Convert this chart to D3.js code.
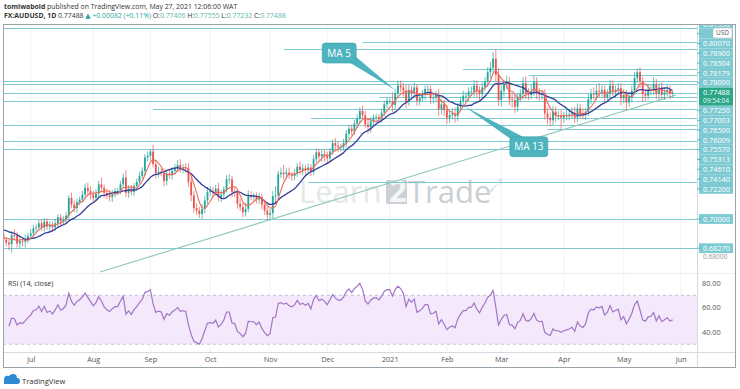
<!DOCTYPE html>
<html>
<head>
<meta charset="utf-8">
<script src="https://cdn.jsdelivr.net/npm/d3@7"></script>
<style>
  body { margin: 0; background: #fff; }
  svg { display: block; font-family: "Open Sans", "DejaVu Sans", sans-serif; }
</style>
</head>
<body>
<div id="chart"></div>
<script>
// ------------------------------------------------------------ Data
// daily closes, FX:AUDUSD, Jun 1 2020 .. May 27 2021 (one line per month)
var closes = [
  0.6895,0.6950,0.6960,0.6955,0.6975,0.6985,0.6965,0.7005,0.6880,0.6865,0.6920,0.6910,0.6875,0.6860,0.6850,0.6905,0.6900,0.6855,0.6870,0.6865,0.6880,0.6900,
  0.6915,0.6945,0.6950,0.6975,0.6950,0.6985,0.6955,0.6965,0.6950,0.6975,0.7010,0.6985,0.6995,0.7020,0.7125,0.7085,0.7065,0.7100,0.7115,0.7145,0.7185,0.7165,0.7145,
  0.7125,0.7150,0.7205,0.7185,0.7155,0.7140,0.7130,0.7150,0.7165,0.7165,0.7205,0.7245,0.7155,0.7180,0.7160,0.7195,0.7220,0.7255,0.7285,0.7365,0.7375,
  0.7400,0.7325,0.7270,0.7280,0.7275,0.7225,0.7270,0.7260,0.7285,0.7300,0.7320,0.7300,0.7305,0.7300,0.7220,0.7140,0.7065,0.7050,0.7030,0.7060,0.7110,0.7160,
  0.7165,0.7160,0.7180,0.7130,0.7145,0.7175,0.7235,0.7235,0.7160,0.7155,0.7090,0.7070,0.7040,0.7060,0.7140,0.7135,0.7135,0.7115,0.7130,0.7085,0.7050,0.7025,
  0.7035,0.7135,0.7140,0.7265,0.7275,0.7265,0.7275,0.7260,0.7255,0.7270,0.7310,0.7290,0.7300,0.7290,0.7305,0.7280,0.7355,0.7395,0.7370,0.7385,0.7375,
  0.7360,0.7400,0.7450,0.7435,0.7425,0.7425,0.7450,0.7505,0.7535,0.7520,0.7565,0.7595,0.7640,0.7615,0.7560,0.7545,0.7580,0.7600,0.7605,0.7595,0.7630,0.7680,0.7700,
  0.7700,0.7675,0.7745,0.7790,0.7780,0.7760,0.7695,0.7765,0.7750,0.7780,0.7700,0.7715,0.7735,0.7770,0.7770,0.7715,0.7720,0.7735,0.7650,0.7680,0.7645,
  0.7600,0.7615,0.7625,0.7610,0.7665,0.7700,0.7730,0.7730,0.7755,0.7755,0.7790,0.7760,0.7740,0.7780,0.7815,0.7870,0.7895,0.7950,0.7855,0.7705,
  0.7760,0.7800,0.7810,0.7710,0.7705,0.7665,0.7720,0.7740,0.7805,0.7745,0.7735,0.7760,0.7810,0.7750,0.7735,0.7740,0.7625,0.7600,0.7585,0.7635,0.7615,0.7615,0.7600,
  0.7610,0.7615,0.7620,0.7630,0.7600,0.7655,0.7625,0.7615,0.7635,0.7710,0.7740,0.7735,0.7760,0.7755,0.7765,0.7720,0.7740,0.7790,0.7755,0.7765,0.7775,0.7715,
  0.7735,0.7690,0.7720,0.7760,0.7835,0.7870,0.7815,0.7740,0.7730,0.7765,0.7770,0.7800,0.7740,0.7780,0.7735,0.7750,0.7765,0.77406,0.77488
];
// wick length above the body / below the body, in pips
var wickHigh = [
  20,25,30,22,18,25,30,35,20,25,35,30,22,18,20,25,35,20,22,18,30,20,
  25,20,18,22,25,20,18,22,20,25,18,20,22,20,15,30,25,20,18,22,25,30,28,
  20,25,22,40,20,25,30,22,20,18,22,25,45,20,22,18,20,25,22,20,25,
  14,40,25,30,22,25,20,28,22,25,30,35,20,25,30,22,25,28,22,30,25,30,
  30,25,22,35,25,20,25,30,20,25,22,30,25,35,30,25,20,22,25,20,30,25,
  25,30,55,20,30,45,25,30,20,25,22,30,25,20,25,20,25,22,20,25,30,
  25,20,22,30,25,20,25,22,20,25,22,25,20,30,25,35,22,20,18,15,22,20,18,
  15,50,25,30,30,25,35,30,25,30,20,25,30,22,25,20,30,25,35,30,25,
  30,25,30,35,20,25,30,20,25,30,35,30,25,30,25,30,35,40,57,40,
  30,25,40,30,35,30,25,30,35,40,30,35,39,30,25,25,30,35,30,35,30,25,30,
  25,30,25,30,35,30,25,30,25,30,30,40,35,45,30,25,30,35,30,25,30,30,
  35,30,25,30,35,21,30,25,30,35,25,40,30,25,30,25,30,25,7
];
var wickLow = [
  30,25,20,25,22,20,25,18,30,40,45,25,30,22,35,50,20,25,30,28,35,25,
  25,20,22,18,20,25,20,22,25,20,18,22,20,25,20,22,25,30,20,18,22,25,30,
  30,20,18,25,30,22,25,30,20,22,18,20,25,30,20,22,25,20,22,30,25,
  30,20,30,25,22,30,25,22,28,20,22,25,30,25,30,35,30,25,24,30,25,22,
  25,30,22,25,30,22,20,25,30,25,30,22,30,25,20,25,30,22,25,30,25,30,
  34,30,40,25,22,30,25,22,30,25,20,25,30,22,20,25,20,22,25,30,35,
  30,25,20,22,30,25,20,25,30,25,22,25,30,25,20,40,35,22,20,15,25,20,22,
  20,40,30,25,30,35,40,25,30,25,30,25,20,30,25,35,30,25,40,30,35,
  36,30,25,40,30,25,30,35,30,25,30,40,35,30,25,30,35,30,40,35,
  40,35,30,35,45,40,30,25,30,35,30,25,30,40,35,30,35,40,35,30,40,30,69,
  30,25,30,25,30,25,30,25,30,25,30,25,30,35,30,30,25,30,25,35,30,40,
  30,45,25,30,25,30,40,45,30,25,30,35,30,35,25,30,25,30,17
];
var monthLabels = ['Jul', 'Aug', 'Sep', 'Oct', 'Nov', 'Dec', '2021', 'Feb', 'Mar', 'Apr', 'May', 'Jun'];

// horizontal levels drawn on the chart, and the bar where each one starts
// (the 0.80470 label sits under the USD badge, so its text is not shown)
var levelPrices = [0.81330, 0.80470, 0.80070, 0.78900, 0.78504, 0.78179, 0.78000, 0.77250, 0.77003, 0.76500, 0.76009, 0.75570, 0.75313, 0.74610, 0.74140, 0.72200, 0.70000, 0.68270];
var levelLabels = ['0.81330', ' ', '0.80070', '0.78900', '0.78504', '0.78179', '0.78000', '0.77250', '0.77003', '0.76500', '0.76009', '0.75570', '0.75313', '0.74610', '0.74140', '0.72200', '0.70000', '0.68270'];
var levelFromBar = [0, 144, 115, 181, 205, 0, 0, 150, 0, 67, 125, 0, 212, 0, 0, 124, 0, 0];

var lastPrice = 0.77488, lastTime = '09:54:04';
var trendBars = [47.5, 259.3], trendPrices = [0.6686, 0.7735];
var rsiTicks = [80, 60, 40];
var lowTick = 0.68;
// ----------------------------------------------------------- /Data

var W = 740, H = 389;
var plotL = 3, plotR = 697, mainT = 25, mainB = 273, rsiT = 274, rsiB = 352;
var upColor = '#26a69a', downColor = '#ef5350', levelColor = '#7fc9d2';

// weekday calendar, Jun 1 2020 .. Jun 1 2021
var days = d3.timeDay.range(new Date(2020, 5, 1), new Date(2021, 5, 2))
    .filter(function(d) { var w = d.getDay(); return w > 0 && w < 6; });

var bars = closes.map(function(c, i) {
  var o = i ? closes[i - 1] : c - 0.0020;
  return {
    i: i, o: o, c: c,
    h: Math.max(o, c) + wickHigh[i] / 10000,
    l: Math.min(o, c) - wickLow[i] / 10000
  };
});

var x = d3.scaleLinear().domain([22, 261]).range([30.7, 680.8]);
var y = d3.scaleLinear().domain([0.70, 0.80]).range([219, 50.2]);
var yR = d3.scaleLinear().domain([40, 80]).range([332, 283]);

var svg = d3.select('#chart').append('svg')
    .attr('width', W)
    .attr('height', H);

var defs = svg.append('defs');
defs.append('clipPath').attr('id', 'clipMain')
  .append('rect').attr('x', plotL).attr('y', mainT).attr('width', plotR - plotL).attr('height', mainB - mainT);
defs.append('clipPath').attr('id', 'clipRsi')
  .append('rect').attr('x', plotL).attr('y', rsiT).attr('width', plotR - plotL).attr('height', rsiB - rsiT);
defs.append('clipPath').attr('id', 'clipAxis')
  .append('rect').attr('x', plotR).attr('y', mainT).attr('width', 40).attr('height', mainB - mainT - 14);

// ----------------------------------------------------------- Header
var head = svg.append('g').attr('font-size', 6.9).attr('fill', '#333');
var h1 = head.append('text').attr('x', 4).attr('y', 8.5);
h1.append('tspan').attr('font-weight', 'bold').text('tomiwabold');
h1.append('tspan').text(' published on TradingView.com, May 27, 2021 12:06:00 WAT');
var h2 = head.append('text').attr('x', 4).attr('y', 18);
h2.append('tspan').attr('font-weight', 'bold').text('FX:AUDUSD, 1D');
h2.append('tspan').text(' 0.77488 ');
h2.append('tspan').attr('fill', '#26a69a').text('\u25B2 +0.00082 (+0.11%)');
[['O:', '0.77406'], ['H:', '0.77555'], ['L:', '0.77232'], ['C:', '0.77488']].forEach(function(p) {
  h2.append('tspan').text(' ' + p[0]);
  h2.append('tspan').attr('fill', '#5bb8ab').text(p[1]);
});

// ----------------------------------------------------------- Frame & grid
var monthIdx = [];
days.forEach(function(d, i) {
  if (i >= 22 && d.getMonth() !== days[i - 1].getMonth()) monthIdx.push(i);
});

var grid = svg.append('g');
grid.selectAll('line.v')
    .data(monthIdx)
  .enter().append('line')
    .attr('x1', function(d) { return x(d); })
    .attr('x2', function(d) { return x(d); })
    .attr('y1', mainT).attr('y2', rsiB)
    .attr('stroke', '#f1f3f6');

// watermark
var wm = svg.append('g').attr('font-size', 31).attr('font-family', 'Open Sans, sans-serif');
wm.append('text').attr('x', 299).attr('y', 203).attr('fill', '#e4e8ec').text('Learn');
wm.append('rect').attr('x', 386).attr('y', 180).attr('width', 21).attr('height', 24).attr('fill', '#cdd1d5');
wm.append('text').attr('x', 389).attr('y', 202).attr('fill', '#f4f5f6').attr('font-weight', 'bold').text('2');
wm.append('text').attr('x', 408).attr('y', 203).attr('fill', '#cbcfd3').text('Trade');
wm.append('path').attr('d', 'M488,192 L500,181 L496,180 L503,178 L501,185 L499,182 L490,194 Z').attr('fill', '#d5e6f1');

// ----------------------------------------------------------- Levels
var main = svg.append('g').attr('clip-path', 'url(#clipMain)');
var levels = levelPrices.map(function(p, i) { return {p: p, from: levelFromBar[i], label: levelLabels[i]}; });
levels.push({p: lastPrice, from: 0, label: ''});

main.selectAll('line.level')
    .data(levels)
  .enter().append('line')
    .attr('x1', function(d) { return d.from ? x(d.from) : plotL; })
    .attr('x2', plotR)
    .attr('y1', function(d) { return Math.round(y(d.p)) + 0.5; })
    .attr('y2', function(d) { return Math.round(y(d.p)) + 0.5; })
    .attr('stroke', levelColor)
    .attr('stroke-width', 1.1);

// trend line
main.append('line')
    .attr('x1', x(trendBars[0])).attr('y1', y(trendPrices[0]))
    .attr('x2', x(trendBars[1])).attr('y2', y(trendPrices[1]))
    .attr('stroke', '#8cc9b3')
    .attr('stroke-width', 1.1);

// ----------------------------------------------------------- Candles
var cg = main.append('g');
cg.selectAll('line.wick')
    .data(bars)
  .enter().append('line')
    .attr('x1', function(d) { return x(d.i); })
    .attr('x2', function(d) { return x(d.i); })
    .attr('y1', function(d) { return y(d.h); })
    .attr('y2', function(d) { return y(d.l); })
    .attr('stroke', function(d) { return d.c >= d.o ? upColor : downColor; })
    .attr('stroke-width', 0.7);
cg.selectAll('rect')
    .data(bars)
  .enter().append('rect')
    .attr('x', function(d) { return x(d.i) - 0.9; })
    .attr('width', 1.8)
    .attr('y', function(d) { return y(Math.max(d.o, d.c)); })
    .attr('height', function(d) { return Math.max(0.8, Math.abs(y(d.o) - y(d.c))); })
    .attr('fill', function(d) { return d.c >= d.o ? upColor : downColor; });

// moving averages
function sma(n) {
  var out = [];
  for (var i = n - 1; i < closes.length; i++) {
    out.push({i: i, v: d3.mean(closes.slice(i - n + 1, i + 1))});
  }
  return out;
}
var maLine = d3.line().curve(d3.curveMonotoneX)
    .x(function(d) { return x(d.i); })
    .y(function(d) { return y(d.v); });
main.append('path').datum(sma(13)).attr('d', maLine)
    .attr('fill', 'none').attr('stroke', '#363c9c').attr('stroke-width', 1.3);
main.append('path').datum(sma(5)).attr('d', maLine)
    .attr('fill', 'none').attr('stroke', '#ef6a5a').attr('stroke-width', 1.1);

// ----------------------------------------------------------- Callouts
function callout(bar, price, dx, dy, bw, bh, base, text) {
  var tx = x(bar), ty = y(price);
  var bx = tx + dx, by = ty + dy;
  var g = svg.append('g');
  g.append('path')
      .attr('d', 'M' + base[0][0] + ',' + base[0][1] + 'L' + tx + ',' + ty + 'L' + base[1][0] + ',' + base[1][1] + 'Z')
      .attr('fill', '#4db4bf');
  g.append('rect').attr('x', bx).attr('y', by).attr('width', bw).attr('height', bh)
      .attr('rx', 3).attr('fill', '#4db4bf').attr('stroke', '#3aa3ae').attr('stroke-width', 0.6);
  g.append('text').attr('x', bx + bw / 2).attr('y', by + bh / 2 + 3.6)
      .attr('text-anchor', 'middle').attr('font-size', 10).attr('fill', '#fff').text(text);
}
var t5x = x(156), t5y = y(0.7764);
callout(156, 0.7764, -73, -47, 34, 20, [[t5x - 48, t5y - 29], [t5x - 39, t5y - 33]], 'MA 5');
var t13x = x(181.6), t13y = y(0.7665);
callout(181.6, 0.7665, 45, 30, 38, 20, [[t13x + 47, t13y + 33], [t13x + 58, t13y + 30]], 'MA 13');

// ----------------------------------------------------------- RSI
var rsi = [];
(function() {
  var n = 14, gain = 0, loss = 0;
  for (var i = 1; i <= n; i++) {
    var ch = closes[i] - closes[i - 1];
    if (ch > 0) gain += ch; else loss -= ch;
  }
  gain /= n; loss /= n;
  rsi.push({i: n, v: 100 - 100 / (1 + gain / loss)});
  for (var j = n + 1; j < closes.length; j++) {
    var c = closes[j] - closes[j - 1];
    gain = (gain * (n - 1) + Math.max(c, 0)) / n;
    loss = (loss * (n - 1) + Math.max(-c, 0)) / n;
    rsi.push({i: j, v: 100 - 100 / (1 + gain / loss)});
  }
})();

var rg = svg.append('g').attr('clip-path', 'url(#clipRsi)');
rg.append('rect').attr('x', plotL).attr('width', plotR - plotL)
    .attr('y', yR(70)).attr('height', yR(30) - yR(70)).attr('fill', '#f4e9fb');
[70, 30].forEach(function(v) {
  rg.append('line').attr('x1', plotL).attr('x2', plotR)
      .attr('y1', yR(v)).attr('y2', yR(v))
      .attr('stroke', '#b9b2c6').attr('stroke-dasharray', '3,3').attr('stroke-width', 0.8);
});
rg.append('path').datum(rsi)
    .attr('d', d3.line().x(function(d) { return x(d.i); }).y(function(d) { return yR(d.v); }))
    .attr('fill', 'none').attr('stroke', '#a275c6').attr('stroke-width', 1.2);

svg.append('text').attr('x', 8).attr('y', 286).attr('font-size', 7.2).attr('fill', '#333').text('RSI (14, close)');

// ----------------------------------------------------------- Axes & separators
svg.append('line').attr('x1', plotL).attr('x2', 736).attr('y1', mainB + 0.5).attr('y2', mainB + 0.5).attr('stroke', '#eceef1');
svg.append('line').attr('x1', plotL).attr('x2', 736).attr('y1', rsiB + 0.5).attr('y2', rsiB + 0.5).attr('stroke', '#d6d9de');
svg.append('line').attr('x1', plotR + 0.5).attr('x2', plotR + 0.5).attr('y1', mainT).attr('y2', 367).attr('stroke', '#d6d9de');

var xAxis = d3.axisBottom(x)
    .tickValues(monthIdx)
    .tickFormat(function(d, i) { return monthLabels[i]; })
    .tickSize(0)
    .tickPadding(4);
var xa = svg.append('g').attr('transform', 'translate(0,' + (rsiB + 0.5) + ')').call(xAxis);
xa.select('.domain').remove();
xa.selectAll('text').attr('font-size', 7.3).attr('fill', '#555').attr('font-family', 'Open Sans, sans-serif');

var yAxisR = d3.axisRight(yR).tickValues(rsiTicks).tickFormat(d3.format('.2f')).tickSize(0).tickPadding(5);
var ya = svg.append('g').attr('transform', 'translate(' + plotR + ',0)').call(yAxisR);
ya.select('.domain').remove();
ya.selectAll('text').attr('font-size', 7.3).attr('fill', '#555').attr('font-family', 'Open Sans, sans-serif');

// plain price tick just below the lowest level label
var pl = svg.append('g').attr('font-size', 7.3).attr('font-family', 'Open Sans, sans-serif');
pl.append('text').attr('x', 703).attr('y', y(lowTick) + 6.6).attr('font-size', 6.6).attr('fill', '#9a9a9a').text(d3.format('.5f')(lowTick));

// price labels with overlap avoidance, anchored at the last price
var labelled = levels.filter(function(d) { return d.label; }).map(function(d) { return {p: d.p, text: d.label.trim(), y: y(d.p)}; });
var cur = {p: lastPrice, y: y(lastPrice), up: 5, down: 13};
var gap = 4.9;
var above = labelled.filter(function(d) { return d.p > lastPrice; }).sort(function(a, b) { return a.p - b.p; });
var below = labelled.filter(function(d) { return d.p < lastPrice; }).sort(function(a, b) { return b.p - a.p; });
var edge = cur.y - cur.up;
above.forEach(function(d) { d.y = Math.min(d.y, edge - gap); edge = d.y - gap; });
edge = cur.y + cur.down;
below.forEach(function(d) { d.y = Math.max(d.y, edge + gap); edge = d.y + gap; });

var plc = pl.append('g').attr('clip-path', 'url(#clipAxis)');
above.concat(below).forEach(function(d) {
  plc.append('rect').attr('x', 699).attr('y', d.y - gap).attr('width', 34).attr('height', gap * 2)
      .attr('fill', '#7ecad3');
  plc.append('line').attr('x1', plotR).attr('x2', 701).attr('y1', d.y).attr('y2', d.y).attr('stroke', '#5fb3bd');
  if (d.text) plc.append('text').attr('x', 703).attr('y', d.y + 2.6).attr('fill', '#fff').text(d.text);
});
pl.append('rect').attr('x', 699).attr('y', cur.y - cur.up).attr('width', 34).attr('height', cur.up + cur.down)
    .attr('fill', '#2aa788');
pl.append('text').attr('x', 703).attr('y', cur.y + 2.6).attr('fill', '#fff').text(d3.format('.5f')(lastPrice));
pl.append('text').attr('x', 703).attr('y', cur.y + 10.4).attr('fill', '#e6f6f0').attr('font-size', 6.6).text(lastTime);

// currency badge
svg.append('rect').attr('x', 713).attr('y', 28).attr('width', 19).attr('height', 10).attr('rx', 1.5)
    .attr('fill', '#fff').attr('stroke', '#b8bcc2').attr('stroke-width', 0.6);
svg.append('text').attr('x', 722.5).attr('y', 35.3).attr('text-anchor', 'middle')
    .attr('font-size', 6.5).attr('fill', '#555').text('USD');

// outer frame
svg.append('rect').attr('x', 3.5).attr('y', 24.5).attr('width', 732).attr('height', 343)
    .attr('fill', 'none').attr('stroke', '#9aa3a8').attr('stroke-width', 1);

// TradingView footer
var ft = svg.append('g');
ft.append('path').attr('d', 'M4,384 L17,384 Q20,384 20,381 Q20,378 17,378 Q17,374 13,374 Q10,374 9,376 Q4,375 4,380 Z')
    .attr('fill', '#2d8bd6');
ft.append('text').attr('x', 22).attr('y', 384).attr('font-size', 7.6).attr('fill', '#333').text('TradingView');
</script>
</body>
</html>
